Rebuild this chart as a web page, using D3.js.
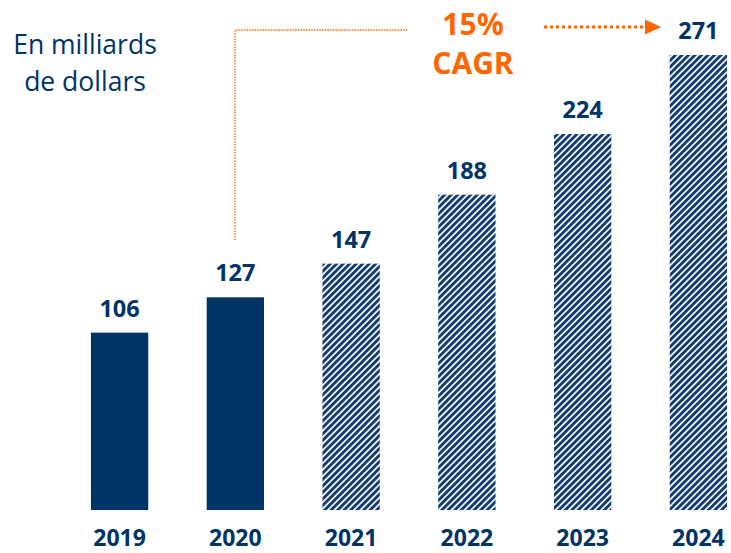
<!DOCTYPE html>
<html>
<head>
<meta charset="utf-8">
<script src="https://cdn.jsdelivr.net/npm/d3@7"></script>
<style>
  html, body { margin: 0; padding: 0; background: #ffffff; }
  svg { display: block; }
</style>
</head>
<body>
<div id="chart"></div>
<script>
// Market size, billions of dollars; 2021 onward are projections
const years = ["2019", "2020", "2021", "2022", "2023", "2024"];
const values = [106, 127, 147, 188, 224, 271];
const projected = [false, false, true, true, true, true];
const unitLines = ["En milliards", "de dollars"];
const cagrLines = ["15%", "CAGR"];

const W = 731, H = 553;
const navy = "#003366";
const orange = "#ff6600";
const font = "'Open Sans', 'DejaVu Sans', sans-serif";

const svg = d3.select("#chart").append("svg")
  .attr("width", W).attr("height", H);

// Diagonal hatch for projected years
const defs = svg.append("defs");
const pat = defs.append("pattern")
  .attr("id", "hatch")
  .attr("patternUnits", "userSpaceOnUse")
  .attr("width", 4.6).attr("height", 4.6)
  .attr("patternTransform", "rotate(45)");
pat.append("rect").attr("width", 4.6).attr("height", 4.6).attr("fill", "#eef3f8");
pat.append("rect").attr("width", 2.8).attr("height", 4.6).attr("fill", "#123a6c");

const x = d3.scaleBand()
  .domain(years)
  .range([62, 756])
  .paddingInner(0.505)
  .paddingOuter(0.25);

const y = d3.scaleLinear()
  .domain([0, 271])
  .range([511, 55]);

const bottom = 510;

// Bars
svg.append("g").selectAll("rect")
  .data(years)
  .join("rect")
  .attr("x", d => x(d))
  .attr("width", x.bandwidth())
  .attr("y", (d, i) => y(values[i]))
  .attr("height", (d, i) => bottom - y(values[i]))
  .attr("fill", (d, i) => projected[i] ? "url(#hatch)" : navy);

// Value labels
svg.append("g").selectAll("text")
  .data(years)
  .join("text")
  .attr("x", d => x(d) + x.bandwidth() / 2)
  .attr("y", (d, i) => y(values[i]) - 16)
  .attr("text-anchor", "middle")
  .attr("font-family", font)
  .attr("font-weight", 700)
  .attr("font-size", 23.5)
  .attr("fill", navy)
  .text((d, i) => values[i]);

// Year axis (no line, no ticks)
const xAxis = svg.append("g")
  .attr("transform", `translate(0,${bottom})`)
  .call(d3.axisBottom(x).tickSize(0).tickPadding(0));
xAxis.select(".domain").remove();
xAxis.selectAll("text")
  .attr("dy", null)
  .attr("y", 36)
  .attr("font-family", font)
  .attr("font-weight", 700)
  .attr("font-size", 23)
  .attr("fill", navy);

// Unit caption
svg.append("text")
  .attr("x", 85).attr("y", 54)
  .attr("text-anchor", "middle")
  .attr("font-family", font)
  .attr("font-size", 26.5)
  .attr("fill", navy)
  .selectAll("tspan")
  .data(unitLines)
  .join("tspan")
  .attr("x", 85)
  .attr("dy", (d, i) => i === 0 ? 0 : 37)
  .text(d => d);

// CAGR annotation
svg.append("g").selectAll("text")
  .data(cagrLines)
  .join("text")
  .attr("x", 473)
  .attr("y", (d, i) => 35 + i * 39)
  .attr("text-anchor", "middle")
  .attr("font-family", font)
  .attr("font-weight", 700)
  .attr("font-size", 30)
  .attr("fill", orange)
  .text(d => d);

// Bracket from the 2020 bar up toward the CAGR label
const bx = x("2020") + x.bandwidth() / 2 - 0.3;
svg.append("path")
  .attr("d", `M${bx},240 V30 H408`)
  .attr("fill", "none")
  .attr("stroke", "#f7944f")
  .attr("stroke-width", 1.8)
  .attr("stroke-dasharray", "1.5 1.2");

// Dotted arrow toward the 2024 value
svg.append("line")
  .attr("x1", 544).attr("x2", 646)
  .attr("y1", 27).attr("y2", 27)
  .attr("stroke", orange)
  .attr("stroke-width", 3)
  .attr("stroke-dasharray", "3 3");
svg.append("path")
  .attr("d", "M645,19.5 L661,27 L645,34.5 Z")
  .attr("fill", orange);
</script>
</body>
</html>
